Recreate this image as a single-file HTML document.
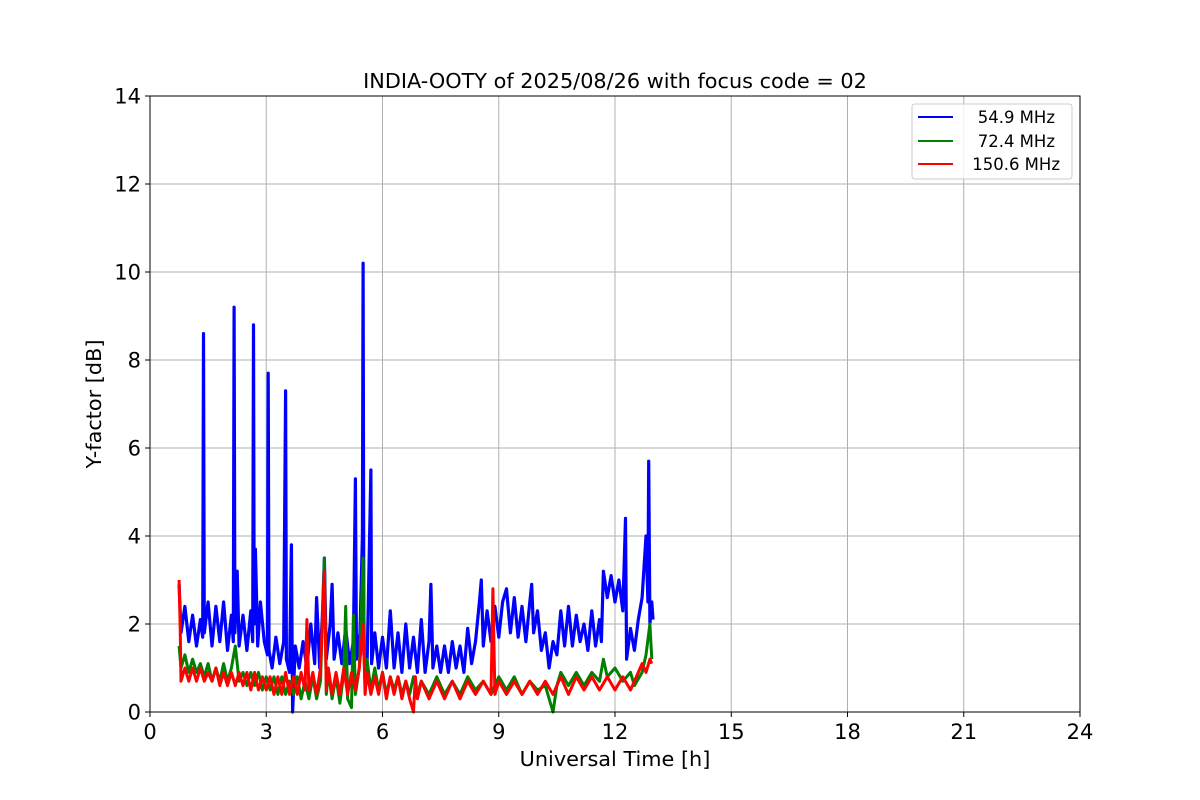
<!DOCTYPE html>
<html><head><meta charset="utf-8"><style>
html,body{margin:0;padding:0;background:#fff;}
svg{display:block;font-family:"DejaVu Sans","Liberation Sans",sans-serif;}
</style></head><body>
<svg id="chart" width="1200" height="800" viewBox="0 0 1200 800" xmlns="http://www.w3.org/2000/svg">
<rect width="1200" height="800" fill="#fff"/>
<g id="grid"></g>
<g id="series"></g>
<rect x="150" y="96" width="930" height="616" fill="none" stroke="#000" stroke-width="1"/>
<g id="xticks"></g>
<g id="yticks"></g>
<text x="615" y="88" text-anchor="middle" font-size="20.8">INDIA-OOTY of 2025/08/26 with focus code = 02</text>
<text x="615" y="766" text-anchor="middle" font-size="20.8">Universal Time [h]</text>
<text transform="translate(101,404) rotate(-90)" text-anchor="middle" font-size="20.8">Y-factor [dB]</text>
<g>
<rect x="912" y="104" width="160" height="75" rx="3" fill="#fff" fill-opacity="0.8" stroke="#ccc"/>
<line x1="918" y1="117" x2="953" y2="117" stroke="#0000ff" stroke-width="2"/>
<text x="1055" y="123" text-anchor="end" font-size="16.5">54.9 MHz</text>
<line x1="918" y1="141" x2="953" y2="141" stroke="#008000" stroke-width="2"/>
<text x="1055" y="147" text-anchor="end" font-size="16.5">72.4 MHz</text>
<line x1="918" y1="164" x2="953" y2="164" stroke="#ff0000" stroke-width="2"/>
<text x="1060" y="170" text-anchor="end" font-size="16.5">150.6 MHz</text>
</g>
</svg>
<script>
const xTicks=[0,3,6,9,12,15,18,21,24];
const yTicks=[0,2,4,6,8,10,12,14];
const blueT=[0.75,0.8,0.9,1.0,1.1,1.2,1.3,1.36,1.38,1.40,1.5,1.6,1.7,1.8,1.9,2.0,2.1,2.15,2.17,2.19,2.25,2.3,2.4,2.5,2.6,2.65,2.67,2.69,2.72,2.78,2.85,2.95,3.03,3.05,3.07,3.15,3.25,3.35,3.45,3.5,3.52,3.6,3.65,3.68,3.75,3.85,3.95,4.05,4.15,4.25,4.3,4.38,4.45,4.5,4.55,4.65,4.7,4.75,4.85,4.95,5.05,5.15,5.25,5.3,5.33,5.42,5.48,5.5,5.52,5.6,5.7,5.72,5.8,5.9,6.0,6.1,6.2,6.3,6.4,6.5,6.6,6.7,6.8,6.9,7.0,7.1,7.2,7.25,7.3,7.4,7.5,7.6,7.7,7.8,7.9,8.0,8.1,8.2,8.3,8.4,8.5,8.55,8.6,8.7,8.8,8.9,9.0,9.1,9.2,9.3,9.4,9.5,9.6,9.7,9.8,9.85,9.9,10.0,10.1,10.2,10.3,10.4,10.5,10.6,10.7,10.8,10.9,11.0,11.1,11.2,11.3,11.4,11.5,11.6,11.65,11.7,11.8,11.9,12.0,12.1,12.2,12.27,12.3,12.4,12.5,12.6,12.7,12.8,12.85,12.87,12.9,12.95,12.98];
const blueV=[2.9,1.8,2.4,1.6,2.2,1.5,2.1,1.7,8.6,1.8,2.5,1.5,2.4,1.6,2.5,1.4,2.2,1.6,9.2,1.8,3.2,1.5,2.2,1.4,2.3,1.6,8.8,2.0,3.7,1.5,2.5,1.6,1.3,7.7,1.4,1.0,1.7,1.1,1.6,7.3,1.2,0.9,3.8,0.0,1.5,1.0,1.6,1.0,2.0,1.1,2.6,1.0,2.2,3.5,1.2,2.0,2.9,1.2,1.8,1.1,1.9,1.1,1.6,5.3,1.2,1.8,4.0,10.2,1.3,1.0,5.5,1.1,1.8,1.0,1.7,1.0,2.3,1.0,1.8,0.9,2.0,1.0,1.7,0.9,2.1,0.9,1.6,2.9,1.0,1.5,0.9,1.5,0.9,1.6,1.0,1.5,0.9,1.9,1.1,1.6,2.5,3.0,1.5,2.3,1.6,2.4,1.7,2.5,2.8,1.8,2.6,1.7,2.4,1.6,2.5,2.9,1.8,2.3,1.4,1.8,1.0,1.6,1.3,2.3,1.5,2.4,1.5,2.2,1.6,2.0,1.4,2.3,1.5,2.1,1.6,3.2,2.6,3.1,2.5,3.0,2.3,4.4,1.2,1.9,1.4,2.1,2.6,4.0,2.5,5.7,2.0,2.5,2.1];
const greenT=[0.75,0.8,0.9,1.0,1.1,1.2,1.3,1.4,1.5,1.6,1.7,1.8,1.9,2.0,2.1,2.2,2.3,2.4,2.5,2.6,2.7,2.8,2.9,3.0,3.1,3.2,3.3,3.4,3.5,3.6,3.7,3.8,3.9,4.0,4.1,4.2,4.3,4.4,4.5,4.55,4.6,4.7,4.8,4.9,5.0,5.05,5.1,5.2,5.25,5.3,5.4,5.5,5.55,5.6,5.7,5.8,5.9,6.0,6.1,6.2,6.3,6.4,6.5,6.6,6.7,6.8,6.9,7.0,7.2,7.4,7.6,7.8,8.0,8.2,8.4,8.6,8.8,9.0,9.2,9.4,9.6,9.8,10.0,10.2,10.4,10.5,10.6,10.8,11.0,11.2,11.4,11.6,11.7,11.8,12.0,12.2,12.4,12.5,12.7,12.8,12.9,12.95];
const greenV=[1.5,1.0,1.3,0.9,1.2,0.9,1.1,0.8,1.1,0.7,1.0,0.7,1.1,0.7,1.0,1.5,0.7,0.9,0.6,0.9,0.6,0.9,0.5,0.8,0.5,0.8,0.4,0.8,0.4,0.7,0.4,0.8,0.3,0.7,0.3,0.8,0.3,0.7,3.5,0.4,0.9,0.3,0.8,0.2,0.9,2.4,0.3,0.1,2.2,0.4,1.0,3.5,0.5,1.2,0.5,1.0,0.5,0.9,0.4,0.8,0.5,0.8,0.4,0.7,0.4,0.8,0.4,0.7,0.4,0.8,0.4,0.7,0.4,0.8,0.5,0.7,0.4,0.8,0.5,0.8,0.4,0.7,0.5,0.6,0.0,0.6,0.9,0.6,0.9,0.6,0.9,0.7,1.2,0.8,1.0,0.7,0.9,0.6,0.9,1.3,2.0,1.2];
const redT=[0.75,0.78,0.8,0.9,1.0,1.1,1.2,1.3,1.4,1.5,1.6,1.7,1.8,1.9,2.0,2.1,2.2,2.3,2.4,2.5,2.6,2.7,2.8,2.9,3.0,3.1,3.2,3.3,3.4,3.5,3.6,3.7,3.8,3.9,4.0,4.05,4.1,4.2,4.3,4.4,4.5,4.55,4.6,4.7,4.8,4.9,5.0,5.1,5.2,5.3,5.4,5.5,5.55,5.6,5.7,5.8,5.9,6.0,6.1,6.2,6.3,6.4,6.5,6.6,6.7,6.8,6.85,6.9,7.0,7.2,7.4,7.6,7.8,8.0,8.2,8.4,8.6,8.8,8.85,8.9,9.0,9.2,9.4,9.6,9.8,10.0,10.2,10.4,10.6,10.8,11.0,11.2,11.4,11.6,11.8,12.0,12.2,12.4,12.6,12.7,12.8,12.9,12.95];
const redV=[3.0,1.9,0.7,1.0,0.7,1.0,0.7,1.0,0.7,0.9,0.7,1.0,0.6,0.9,0.6,0.9,0.6,0.9,0.6,0.9,0.5,0.9,0.5,0.8,0.5,0.8,0.4,0.8,0.4,0.9,0.4,0.8,0.4,0.9,0.5,2.1,0.5,0.9,0.4,1.0,3.2,0.5,1.0,0.4,0.9,0.4,1.0,0.4,0.9,0.5,1.0,2.0,0.4,0.9,0.4,0.8,0.4,0.9,0.3,0.8,0.4,0.8,0.3,0.7,0.3,0.0,0.8,0.3,0.7,0.3,0.7,0.3,0.7,0.3,0.7,0.4,0.7,0.4,2.8,0.4,0.7,0.4,0.7,0.4,0.7,0.4,0.7,0.4,0.8,0.4,0.8,0.5,0.8,0.5,0.8,0.5,0.8,0.5,0.9,1.1,0.9,1.2,1.1];
const NS="http://www.w3.org/2000/svg";
const X0=150,X1=1080,Y0=712,Y1=96;
function xs(h){return X0+(h-0)/(24-0)*(X1-X0);}
function ys(v){return Y0-(v-0)/(14-0)*(Y0-Y1);}
function mk(tag,attrs,parent){const e=document.createElementNS(NS,tag);for(const k in attrs)e.setAttribute(k,attrs[k]);parent.appendChild(e);return e;}
const grid=document.getElementById('grid'),xt=document.getElementById('xticks'),yt=document.getElementById('yticks'),ser=document.getElementById('series');
xTicks.forEach(t=>{
  const g=mk('line',{x1:xs(t),x2:xs(t),y1:Y1,y2:Y0,stroke:'#b0b0b0','stroke-width':1},grid);
  
  
  const tk=mk('line',{x1:xs(t),x2:xs(t),y1:Y0,y2:Y0+5,stroke:'#000'},xt);
  
  
  const tx=mk('text',{x:xs(t),y:Y0+27,'text-anchor':'middle','font-size':21},xt);
  tx.textContent=t;
  
  
});
yTicks.forEach(t=>{
  const g=mk('line',{x1:X0,x2:X1,y1:ys(t),y2:ys(t),stroke:'#b0b0b0','stroke-width':1},grid);
  
  
  const tk=mk('line',{x1:X0-5,x2:X0,y1:ys(t),y2:ys(t),stroke:'#000'},yt);
  
  
  const tx=mk('text',{x:X0-9,y:ys(t)+7.5,'text-anchor':'end','font-size':21},yt);
  tx.textContent=t;
  
  
});
function line(T,V,color,name,w){
  const d=T.map((t,i)=>(i?'L':'M')+xs(t).toFixed(1)+','+ys(V[i]).toFixed(1)).join('');
  const p=mk('path',{d:d,fill:'none',stroke:color,'stroke-width':w,'stroke-linejoin':'round'},ser);
  
  
}
line(blueT,blueV,'#0000ff','series-54-9-mhz',3.2);
line(greenT,greenV,'#008000','series-72-4-mhz',3);
line(redT,redV,'#ff0000','series-150-6-mhz',3);
</script>
</body></html>
